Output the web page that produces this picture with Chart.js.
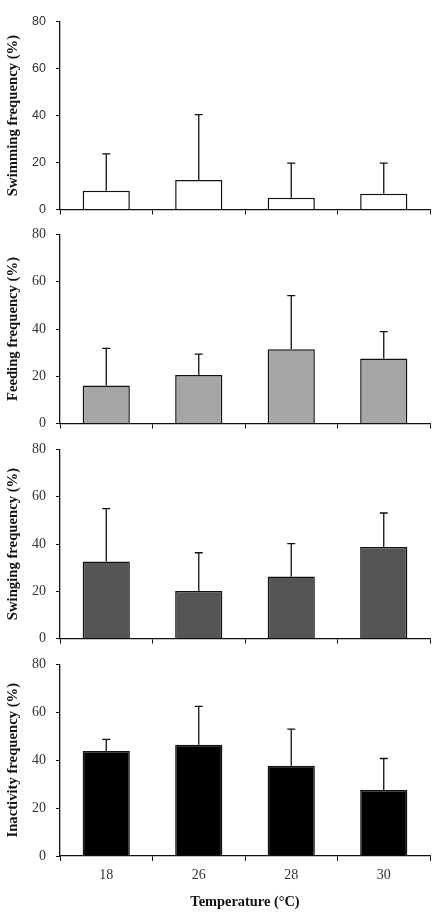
<!DOCTYPE html>
<html>
<head>
<meta charset="utf-8">
<script src="https://cdn.jsdelivr.net/npm/chart.js@4.4.1/dist/chart.umd.min.js"></script>
<style>
  html, body { margin: 0; padding: 0; background: #fff; }
  body { position: relative; width: 439px; height: 917px; overflow: hidden; }
  canvas { position: absolute; left: 0; }
</style>
</head>
<body>
<canvas id="c1"></canvas>
<canvas id="c2"></canvas>
<canvas id="c3"></canvas>
<canvas id="c4"></canvas>
<script>
const temperatures = ["18", "26", "28", "30"];

const swimming = [8.0, 12.6, 5.0, 6.7];
const swimmingSd = [15.7, 27.8, 14.7, 13.0];

const feeding = [16.1, 20.6, 31.4, 27.5];
const feedingSd = [15.7, 8.8, 22.7, 11.4];

const swinging = [32.6, 20.1, 26.3, 38.7];
const swingingSd = [22.4, 16.2, 13.9, 14.4];

const inactivity = [43.8, 46.4, 37.7, 27.6];
const inactivitySd = [4.9, 16.1, 15.3, 13.1];

const yTicks = [0, 20, 40, 60, 80];

// upper-only error bars drawn from the bar top through the y scale
const upperErrorBars = {
  id: "upperErrorBars",
  afterDatasetsDraw(chart) {
    const ctx = chart.ctx;
    const y = chart.scales.y;
    chart.data.datasets.forEach((ds, di) => {
      const meta = chart.getDatasetMeta(di);
      meta.data.forEach((bar, i) => {
        const top = y.getPixelForValue(ds.data[i] + ds.sd[i]);
        ctx.save();
        ctx.strokeStyle = "#111";
        ctx.lineWidth = 1.3;
        ctx.beginPath();
        ctx.moveTo(bar.x, bar.y);
        ctx.lineTo(bar.x, top);
        ctx.moveTo(bar.x - 4, top);
        ctx.lineTo(bar.x + 4, top);
        ctx.stroke();
        ctx.restore();
      });
    });
  }
};

function makePanel(id, opts) {
  const canvas = document.getElementById(id);
  canvas.width = 439;
  canvas.height = opts.height;
  canvas.style.top = opts.top + "px";

  return new Chart(canvas.getContext("2d"), {
    type: "bar",
    data: {
      labels: temperatures,
      datasets: [
        {
          data: opts.values,
          sd: opts.sd,
          backgroundColor: opts.fill,
          borderColor: "#111",
          borderWidth: 1.5,
          categoryPercentage: 1,
          barPercentage: 0.51
        }
      ]
    },
    options: {
      responsive: false,
      animation: false,
      layout: { padding: { top: 14, right: 9, left: 0, bottom: 0 } },
      plugins: { legend: { display: false }, tooltip: { enabled: false } },
      scales: {
        x: {
          grid: {
            offset: true,
            drawOnChartArea: false,
            drawTicks: true,
            tickLength: 5,
            color: "#111"
          },
          border: { color: "#111", width: 1.3 },
          ticks: {
            display: opts.showX,
            padding: 6,
            color: "#333",
            font: { family: "'Liberation Serif', serif", size: 14 }
          },
          title: {
            display: opts.showX,
            text: "Temperature (°C)",
            color: "#111",
            padding: { top: 4, bottom: 6 },
            font: { family: "'Liberation Serif', serif", size: 14.4, weight: "bold" }
          },
          afterFit(scale) { scale.height = opts.xHeight; }
        },
        y: {
          min: 0,
          max: 80,
          afterBuildTicks(scale) { scale.ticks = yTicks.map((v) => ({ value: v })); },
          grid: {
            drawOnChartArea: false,
            drawTicks: true,
            tickLength: 4,
            color: "#111"
          },
          border: { color: "#111", width: 1.3 },
          ticks: {
            padding: 10,
            color: "#333",
            font: { family: opts.tickFont, size: opts.tickSize }
          },
          title: {
            display: true,
            text: opts.yTitle,
            color: "#111",
            padding: { top: 4, bottom: 0 },
            font: { family: "'Liberation Serif', serif", size: 14.7, weight: "bold" }
          },
          afterFit(scale) { scale.width = 60; }
        }
      }
    },
    plugins: [upperErrorBars]
  });
}

makePanel("c1", {
  top: 4, height: 223, xHeight: 8,
  values: swimming, sd: swimmingSd, fill: "#ffffff",
  yTitle: "Swimming frequency (%)", showX: false,
  tickFont: "'Liberation Sans', Arial, sans-serif", tickSize: 12.5
});
makePanel("c2", {
  top: 216, height: 226, xHeight: 8,
  values: feeding, sd: feedingSd, fill: "#a6a6a6",
  yTitle: "Feeding frequency (%)", showX: false,
  tickFont: "'Liberation Serif', serif", tickSize: 14
});
makePanel("c3", {
  top: 431, height: 226, xHeight: 8,
  values: swinging, sd: swingingSd, fill: "#555555",
  yTitle: "Swinging frequency (%)", showX: false,
  tickFont: "'Liberation Serif', serif", tickSize: 14
});
makePanel("c4", {
  top: 646, height: 271, xHeight: 61,
  values: inactivity, sd: inactivitySd, fill: "#000000",
  yTitle: "Inactivity frequency (%)", showX: true,
  tickFont: "'Liberation Serif', serif", tickSize: 14
});
</script>
</body>
</html>
